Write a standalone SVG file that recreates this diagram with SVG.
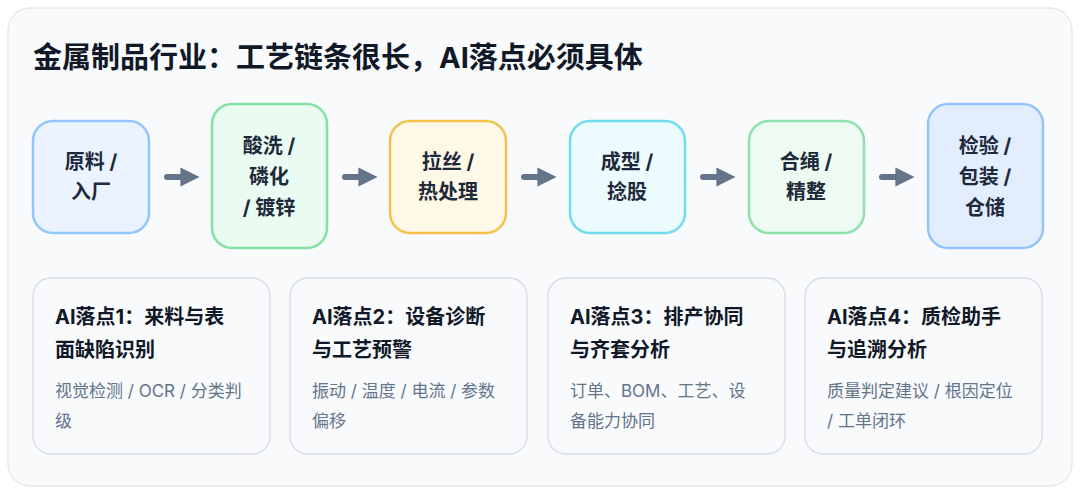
<svg xmlns="http://www.w3.org/2000/svg" width="1080" height="494" viewBox="0 0 1080 494">
<defs>
<style>
text{font-family:Inter,"Noto Sans CJK SC","Noto Sans",sans-serif;}
.t{font-size:29px;font-weight:700;fill:#111827}
.n{font-size:20px;font-weight:700;fill:#1e293b;text-anchor:middle}
.ct{font-size:20px;font-weight:700;fill:#111827}
.cs{font-size:17px;fill:#64748b}
.card{fill:#f8fafc;stroke:#d8dde4;stroke-width:1.3}
.box{stroke-width:2.5}
.c{stroke:#64748b;stroke-width:6;stroke-linecap:round;fill:none}
</style>
<marker id="ah" viewBox="0 0 10 10" refX="5" refY="5" markerWidth="3.2" markerHeight="3.2" orient="auto" markerUnits="strokeWidth"><path d="M0,0L10,5L0,10z" fill="#64748b"/></marker>
</defs>
<rect x="8" y="8" width="1064" height="478" rx="22" fill="#f8fafc" stroke="#e5e7eb" stroke-width="1.3"/>
<text class="t" x="33" y="68">金属制品行业：工艺链条很长，AI落点必须具体</text>
<g id="connectors">
<line class="c" x1="167" y1="177" x2="190" y2="177" marker-end="url(#ah)"/>
<line class="c" x1="345" y1="177" x2="368" y2="177" marker-end="url(#ah)"/>
<line class="c" x1="524" y1="177" x2="547" y2="177" marker-end="url(#ah)"/>
<line class="c" x1="703" y1="177" x2="726" y2="177" marker-end="url(#ah)"/>
<line class="c" x1="882" y1="177" x2="905" y2="177" marker-end="url(#ah)"/>
</g>
<g id="n1"><rect class="box" x="33" y="121" width="116" height="112" rx="20" fill="#eaf3ff" stroke="#93c5fd"/><text class="n" x="91" y="169">原料 /</text><text class="n" x="91" y="199">入厂</text></g>
<g id="n2"><rect class="box" x="212" y="104" width="115" height="144" rx="20" fill="#eafcf1" stroke="#86e0a4"/><text class="n" x="269" y="153">酸洗 /</text><text class="n" x="269" y="184">磷化</text><text class="n" x="269" y="215">/ 镀锌</text></g>
<g id="n3"><rect class="box" x="390" y="121" width="116" height="112" rx="20" fill="#fef8e6" stroke="#f2c24c"/><text class="n" x="448" y="169">拉丝 /</text><text class="n" x="448" y="199">热处理</text></g>
<g id="n4"><rect class="box" x="570" y="121" width="115" height="112" rx="20" fill="#ebfbfe" stroke="#72dcef"/><text class="n" x="627" y="169">成型 /</text><text class="n" x="627" y="199">捻股</text></g>
<g id="n5"><rect class="box" x="749" y="121" width="115" height="112" rx="20" fill="#edfbf2" stroke="#8ee0ac"/><text class="n" x="806" y="169">合绳 /</text><text class="n" x="806" y="199">精整</text></g>
<g id="n6"><rect class="box" x="928" y="104" width="115" height="144" rx="20" fill="#e2edfe" stroke="#93c5fd"/><text class="n" x="985" y="153">检验 /</text><text class="n" x="985" y="184">包装 /</text><text class="n" x="985" y="215">仓储</text></g>
<g id="c1"><rect class="card" x="33" y="278" width="237" height="176" rx="18"/><text class="ct" x="55" y="324">AI落点1：来料与表</text><text class="ct" x="55" y="357">面缺陷识别</text><text class="cs" x="55" y="397">视觉检测 / OCR / 分类判</text><text class="cs" x="55" y="427">级</text></g>
<g id="c2"><rect class="card" x="290" y="278" width="237" height="176" rx="18"/><text class="ct" x="312" y="324">AI落点2：设备诊断</text><text class="ct" x="312" y="357">与工艺预警</text><text class="cs" x="312" y="397">振动 / 温度 / 电流 / 参数</text><text class="cs" x="312" y="427">偏移</text></g>
<g id="c3"><rect class="card" x="548" y="278" width="237" height="176" rx="18"/><text class="ct" x="570" y="324">AI落点3：排产协同</text><text class="ct" x="570" y="357">与齐套分析</text><text class="cs" x="570" y="397">订单、BOM、工艺、设</text><text class="cs" x="570" y="427">备能力协同</text></g>
<g id="c4"><rect class="card" x="805" y="278" width="237" height="176" rx="18"/><text class="ct" x="827" y="324">AI落点4：质检助手</text><text class="ct" x="827" y="357">与追溯分析</text><text class="cs" x="827" y="397">质量判定建议 / 根因定位</text><text class="cs" x="827" y="427">/ 工单闭环</text></g>
</svg>
